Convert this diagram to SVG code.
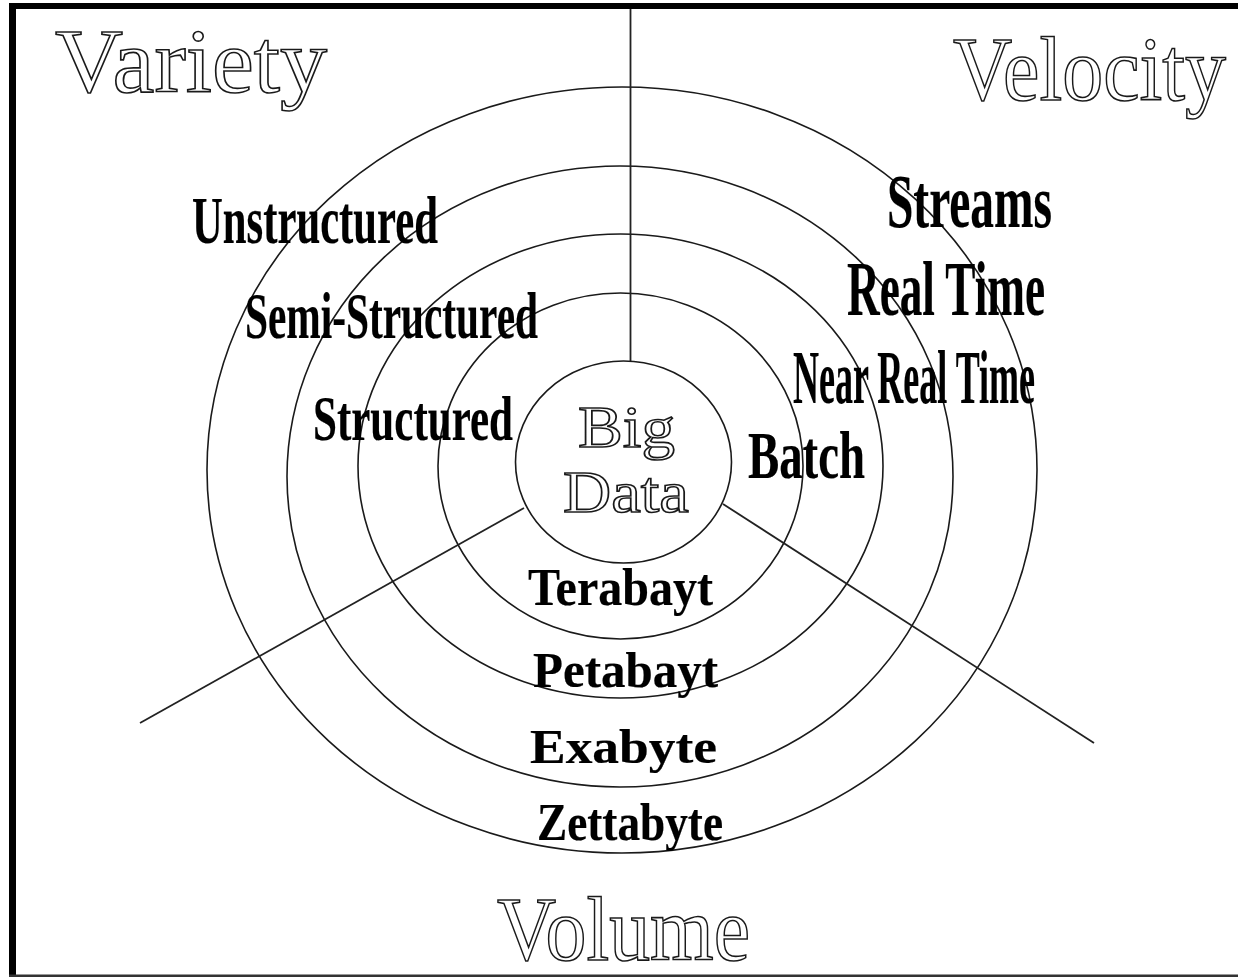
<svg xmlns="http://www.w3.org/2000/svg" width="1238" height="977" viewBox="0 0 1238 977">
  <style>
    .ring { fill: none; stroke: #1a1a1a; stroke-width: 1.6; }
    .spoke { stroke: #222; stroke-width: 1.8; fill: none; }
    .outline { font-family: "Liberation Serif", "Times New Roman", Times, serif; fill: #ffffff; stroke: #1a1a1a; stroke-width: 1.6; }
    .lbl { font-family: "Liberation Serif", "Times New Roman", Times, serif; font-weight: bold; fill: #000; stroke: #000; stroke-width: 0.2; }
  </style>
  <rect x="0" y="0" width="1238" height="977" fill="#ffffff"/>
  <g id="frame">
    <rect x="9" y="3" width="1229" height="6" fill="#000"/>
    <rect x="9" y="3" width="7" height="974" fill="#000"/>
    <rect x="9" y="974.5" width="1229" height="2.5" fill="#333"/>
  </g>
  <g id="rings">
    <ellipse class="ring" cx="622" cy="470" rx="415" ry="383"/>
    <ellipse class="ring" cx="620" cy="476.5" rx="333" ry="310.5"/>
    <ellipse class="ring" cx="620.5" cy="466" rx="262.5" ry="232"/>
    <ellipse class="ring" cx="620.5" cy="466" rx="182.5" ry="173"/>
  </g>
  <g id="connectors">
    <line class="spoke" x1="630.5" y1="9" x2="630.5" y2="361"/>
    <line class="spoke" x1="524" y1="508" x2="140" y2="723"/>
    <line class="spoke" x1="723" y1="504" x2="1094" y2="743"/>
  </g>
  <g id="center">
    <ellipse class="ring" cx="623.5" cy="462" rx="108" ry="101" fill="#fff"/>
    <text class="outline" x="578" y="447" font-size="60" textLength="97" lengthAdjust="spacingAndGlyphs">Big</text>
    <text class="outline" x="563" y="512" font-size="60" textLength="126" lengthAdjust="spacingAndGlyphs">Data</text>
  </g>
  <g id="variety">
    <text class="outline" x="55" y="92" font-size="90" textLength="272" lengthAdjust="spacingAndGlyphs">Variety</text>
  </g>
  <g id="velocity">
    <text class="outline" x="953" y="100" font-size="90" textLength="273" lengthAdjust="spacingAndGlyphs">Velocity</text>
  </g>
  <g id="volume">
    <text class="outline" x="497" y="960" font-size="90" textLength="253" lengthAdjust="spacingAndGlyphs">Volume</text>
  </g>
  <g id="variety-labels">
    <text class="lbl" x="192" y="243" font-size="68" textLength="246" lengthAdjust="spacingAndGlyphs">Unstructured</text>
    <text class="lbl" x="245" y="338" font-size="66" textLength="293" lengthAdjust="spacingAndGlyphs">Semi-Structured</text>
    <text class="lbl" x="313" y="440" font-size="64" textLength="200" lengthAdjust="spacingAndGlyphs">Structured</text>
  </g>
  <g id="velocity-labels">
    <text class="lbl" x="887" y="227" font-size="76" textLength="165" lengthAdjust="spacingAndGlyphs">Streams</text>
    <text class="lbl" x="847" y="315" font-size="78" textLength="198" lengthAdjust="spacingAndGlyphs">Real Time</text>
    <text class="lbl" x="793" y="403" font-size="76" textLength="242" lengthAdjust="spacingAndGlyphs">Near Real Time</text>
    <text class="lbl" x="748" y="478" font-size="68" textLength="117" lengthAdjust="spacingAndGlyphs">Batch</text>
  </g>
  <g id="volume-labels">
    <text class="lbl" x="528" y="605" font-size="52" textLength="185" lengthAdjust="spacingAndGlyphs">Terabayt</text>
    <text class="lbl" x="533" y="687" font-size="51" textLength="185" lengthAdjust="spacingAndGlyphs">Petabayt</text>
    <text class="lbl" x="530" y="763" font-size="49" textLength="187" lengthAdjust="spacingAndGlyphs">Exabyte</text>
    <text class="lbl" x="537" y="840" font-size="52" textLength="186" lengthAdjust="spacingAndGlyphs">Zettabyte</text>
  </g>
</svg>
